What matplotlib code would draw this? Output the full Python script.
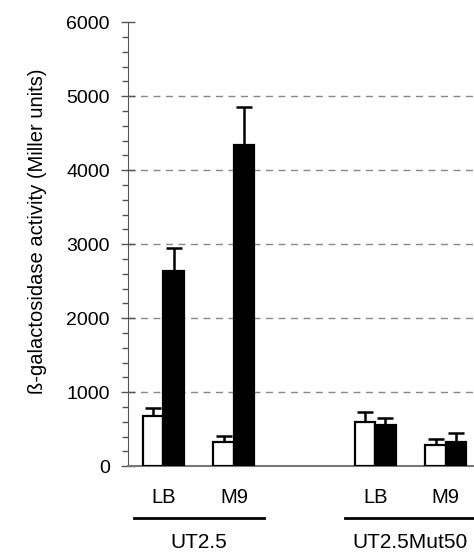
import numpy as np
import matplotlib
matplotlib.use("Agg")
import matplotlib.pyplot as plt

plt.rcParams['font.family'] = ['Liberation Sans', 'DejaVu Sans']

# --- data ---
media = ['LB', 'M9', 'LB', 'M9']
strains = ['UT2.5', 'UT2.5Mut50']
white_vals = [676, 324, 595, 284]
white_err = [108, 81, 135, 81]
black_vals = [2635, 4340, 560, 324]
black_err = [311, 511, 90, 122]

pos = np.array([0, 1, 3, 4])
width = 0.29

fig = plt.figure(figsize=(4.74, 5.53), dpi=100)
ax = fig.add_axes([0.27, 0.157, 0.73, 0.803])

ax.bar(pos - width / 2, white_vals, width, color='white', edgecolor='black',
       linewidth=1.6, zorder=3)
ax.bar(pos + width / 2, black_vals, width, color='black', edgecolor='black',
       linewidth=1.6, zorder=3)
ax.errorbar(pos - width / 2, white_vals, yerr=[np.zeros(4), white_err], fmt='none',
            ecolor='black', elinewidth=1.8, capsize=6, capthick=1.8, zorder=2)
ax.errorbar(pos + width / 2, black_vals, yerr=[np.zeros(4), black_err], fmt='none',
            ecolor='black', elinewidth=1.8, capsize=6, capthick=1.8, zorder=2)

ax.set_xlim(-0.5, 4.4)
ax.set_ylim(0, 6000)
ax.set_yticks(np.arange(0, 6001, 1000))
ax.set_yticks(np.arange(0, 6001, 200), minor=True)
ax.tick_params(axis='y', which='major', direction='inout', length=10, width=1,
               colors='#555555', labelcolor='black', labelsize=14, pad=8)
ax.tick_params(axis='y', which='minor', direction='out', length=4.5, width=1,
               colors='#555555')
ax.set_xticks([])
for y in range(1000, 6000, 1000):
    ax.axhline(y, color='#888888', linestyle=(0, (5, 4)), linewidth=1, zorder=1)

ax.spines['top'].set_visible(False)
ax.spines['right'].set_visible(False)
ax.spines['left'].set_color('#555555')
ax.spines['bottom'].set_color('#777777')
ax.spines['bottom'].set_linewidth(1.5)

ax.set_ylabel('ß-galactosidase activity (Miller units)', fontsize=14.5, labelpad=10)
ax.yaxis.set_label_coords(-0.235, 0.53)

trans = ax.get_xaxis_transform()
for p, m in zip(pos, media):
    ax.text(p, -0.07, m, transform=trans, ha='center', va='center', fontsize=14.5)
for c, s in zip([0.5, 3.5], strains):
    ax.plot([c - 0.92, c + 0.92], [-0.117, -0.117], transform=trans, color='black',
            linewidth=2, clip_on=False)
    ax.text(c, -0.171, s, transform=trans, ha='center', va='center', fontsize=15)

fig.savefig('out.png', dpi=100)
